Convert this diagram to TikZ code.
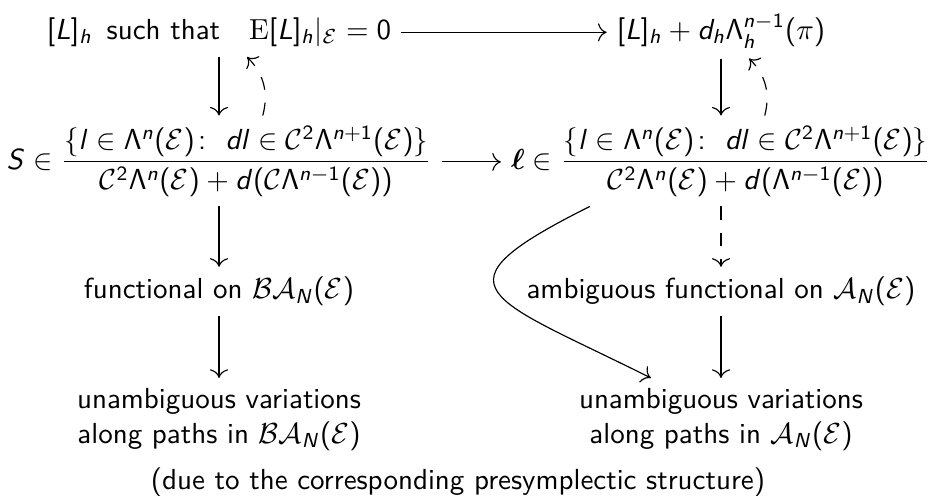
\documentclass[tikz,border=0pt]{standalone}
\usepackage{amsmath}
\usepackage{amssymb}
\usetikzlibrary{positioning,arrows.meta,calc}
% sans math letters and digits, as on slides
\DeclareSymbolFont{sfletters}{OT1}{cmss}{m}{sl}
\SetSymbolFont{operators}{normal}{OT1}{cmss}{m}{n}
\newcommand\sfletter[1]{\DeclareMathSymbol{#1}{\mathalpha}{sfletters}{`#1}}
\sfletter{A}\sfletter{L}\sfletter{N}\sfletter{S}
\sfletter{d}\sfletter{h}\sfletter{l}\sfletter{n}
\tikzset{
  >={Computer Modern Rightarrow[scale=1.2]},
  every node/.style={font=\sffamily},
  % --- nodes
  cell/.style    = {anchor=base, inner sep=3.3pt},
  twoline/.style = {align=center, anchor=north, inner sep=3.3pt},
  % --- edges
  e/.style       = {->, line width=0.4pt},
  edash/.style   = {e, dash pattern=on 4.5pt off 4.5pt},
}

\begin{document}
\begin{tikzpicture}
  \useasboundingbox (0,0) rectangle (11.27,-6.01);
  \node[cell] (lag) at (2.654,-0.48) {$[L]_h$\enspace such that\enspace\, $\textrm{E}[L]_h|_{\mathcal{E}}=0$};
  \node[cell] (cls) at (8.737,-0.48) {$[L]_h+d_h\Lambda^{n-1}_h(\pi)$};
  \node[cell] (act) at (2.654,-2.05) {$S\in\dfrac{\{l\in\Lambda^n(\mathcal{E})\colon\ dl\in\mathcal{C}^2\Lambda^{n+1}(\mathcal{E})\}}{\mathcal{C}^2\Lambda^n(\mathcal{E})+d(\mathcal{C}\Lambda^{n-1}(\mathcal{E}))}$};
  \node[cell] (lagcls) at (8.737,-2.05) {$\boldsymbol{\ell}\in\dfrac{\{l\in\Lambda^n(\mathcal{E})\colon\ dl\in\mathcal{C}^2\Lambda^{n+1}(\mathcal{E})\}}{\mathcal{C}^2\Lambda^n(\mathcal{E})+d(\Lambda^{n-1}(\mathcal{E}))}$};
  \node[cell] (fun) at (2.654,-3.62) {functional on $\mathcal{BA}_N(\mathcal{E})$};
  \node[cell] (afun) at (8.737,-3.62) {ambiguous functional on $\mathcal{A}_N(\mathcal{E})$};
  \node[twoline] (var) at (2.654,-4.58) {unambiguous variations\\along paths in $\mathcal{BA}_N(\mathcal{E})$};
  \node[twoline] (avar) at (8.737,-4.58) {unambiguous variations\\along paths in $\mathcal{A}_N(\mathcal{E})$};
  \node[cell] (note) at (5.55,-5.926) {(due to the corresponding presymplectic structure)};
  \draw[e] ([yshift=2.5pt]lag.base east) -- ([yshift=2.5pt]cls.base west);
  \draw[e] (lag) -- (act);
  \draw[edash] ([xshift=0.53cm]act.north) to[bend right=30] ([xshift=0.34cm]lag.south);
  \draw[e] (cls) -- (lagcls);
  \draw[edash] ([xshift=0.53cm]lagcls.north) to[bend right=30] ([xshift=0.34cm]cls.south);
  \draw[e] ([yshift=2.5pt]act.base east) -- ([yshift=2.5pt]lagcls.base west);
  \draw[e] (act) -- (fun);
  \draw[edash] (lagcls) -- (afun);
  \draw[e] (fun) -- (var);
  \draw[e] (afun) -- (avar);
  \draw[e] ([xshift=-1.59cm]lagcls.south) .. controls +(-1.98,-0.99) and +(-1.98,0.99) .. ([xshift=-0.85cm]avar.north);
\end{tikzpicture}
\end{document}
